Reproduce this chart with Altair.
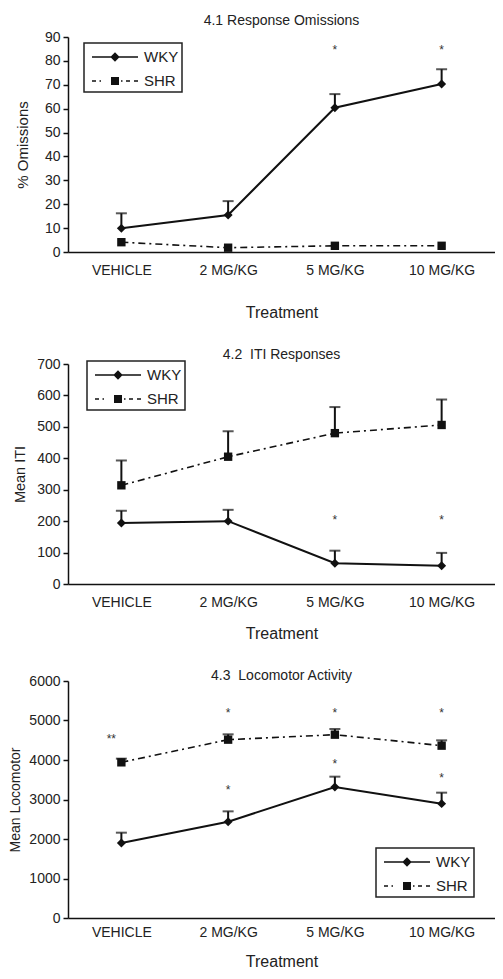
import altair as alt
import pandas as pd

treatments = ["VEHICLE", "2 MG/KG", "5 MG/KG", "10 MG/KG"]
strains = ["WKY", "SHR"]

# 4.1 Response Omissions
om_wky = [9.9, 15.5, 60.4, 70.3]
om_wky_up = [16.2, 21.3, 66.1, 76.5]
om_shr = [4.1, 1.8, 2.6, 2.6]
om_shr_up = [4.1, 1.8, 2.6, 2.6]
om_star_tr = ["5 MG/KG", "10 MG/KG"]
om_star_y = [86, 86]
om_star_txt = ["*", "*"]

# 4.2 ITI Responses
iti_wky = [194, 200, 66, 58]
iti_wky_up = [233, 236, 106, 99]
iti_shr = [314, 405, 480, 506]
iti_shr_up = [393, 486, 563, 587]
iti_star_tr = ["5 MG/KG", "10 MG/KG"]
iti_star_y = [212, 212]
iti_star_txt = ["*", "*"]

# 4.3 Locomotor Activity
loc_wky = [1899, 2439, 3316, 2895]
loc_wky_up = [2160, 2700, 3578, 3173]
loc_shr = [3941, 4515, 4641, 4363]
loc_shr_up = [4034, 4650, 4785, 4498]
loc_star_tr = ["2 MG/KG", "5 MG/KG", "10 MG/KG", "2 MG/KG", "5 MG/KG", "10 MG/KG"]
loc_star_y = [5274, 5274, 5274, 3316, 3966, 3629]
loc_star_txt = ["*", "*", "*", "*", "*", "*"]
loc_dstar_tr = ["VEHICLE"]
loc_dstar_y = [4608]
loc_dstar_txt = ["**"]

FONT = "Liberation Sans"
INK = "#111111"


def seg(x0, x1, h=0.08):
    return f"M{x0},{-h}H{x1}V{h}H{x0}Z"


# legend keys: line pieces drawn as thin filled bars, plus the marker
WKY_PATH = seg(-2.3, 2.3) + "M0,-0.47L0.47,0L0,0.47L-0.47,0Z"
SHR_PATH = (seg(-2.3, -1.9, 0.065) + seg(-1.55, -1.4, 0.065)
            + "M-0.4,-0.4H0.4V0.4H-0.4Z"
            + seg(0.6, 0.75, 0.065) + seg(1.1, 1.5, 0.065) + seg(1.9, 2.3, 0.065))


def frame(wky, wky_up, shr, shr_up):
    rows = []
    for i, t in enumerate(treatments):
        rows.append({"Treatment": t, "Strain": "WKY", "Mean": wky[i], "Upper": wky_up[i]})
        rows.append({"Treatment": t, "Strain": "SHR", "Mean": shr[i], "Upper": shr_up[i]})
    return pd.DataFrame(rows)


def panel(df, stars, dstars, title, ytitle, ymax, ystep, height, legend_xy, title_offset,
          ytp, ytfs, xlp, xtp):
    xenc = alt.X("Treatment:N", sort=treatments,
                 scale=alt.Scale(type="point", padding=0.5),
                 axis=alt.Axis(title="Treatment", labelAngle=0, ticks=False,
                               labelPadding=xlp, titlePadding=xtp,
                               titleFontSize=16))
    yscale = alt.Scale(domain=[0, ymax], nice=False, zero=True)
    yaxis = alt.Axis(title=ytitle, values=list(range(0, ymax + 1, ystep)),
                     format="d", labelOverlap=False, tickCount=len(range(0, ymax + 1, ystep)),
                     tickSize=5, labelPadding=3, titlePadding=ytp, titleFontSize=ytfs)

    def Y(field):
        return alt.Y(field, scale=yscale, axis=yaxis)

    base = alt.Chart(df)
    line_w = base.transform_filter("datum.Strain == 'WKY'").mark_line(color=INK, strokeWidth=2).encode(
        x=xenc, y=Y("Mean:Q"))
    line_s = base.transform_filter("datum.Strain == 'SHR'").mark_line(
        color=INK, strokeWidth=1.6, strokeDash=[7, 4, 2, 4]).encode(x=xenc, y=Y("Mean:Q"))
    err = base.transform_filter("datum.Upper > datum.Mean").mark_rule(color=INK, strokeWidth=2).encode(
        x=xenc, y=Y("Mean:Q"), y2="Upper:Q")
    caps = base.transform_filter("datum.Upper > datum.Mean").mark_tick(
        color=INK, size=11, thickness=2, orient="horizontal").encode(x=xenc, y=Y("Upper:Q"))
    dia = base.transform_filter("datum.Strain == 'WKY'").mark_point(
        shape="diamond", filled=True, color=INK, size=80, opacity=1).encode(x=xenc, y=Y("Mean:Q"))
    sq = base.transform_filter("datum.Strain == 'SHR'").mark_point(
        shape="square", filled=True, color=INK, size=70, opacity=1).encode(x=xenc, y=Y("Mean:Q"))
    st = alt.Chart(stars).mark_text(fontSize=12, baseline="alphabetic", dy=7, color="#333", font=FONT).encode(
        x=xenc, y=Y("y:Q"), text="label:N")
    layers = [line_w, line_s, err, caps, dia, sq, st]
    if dstars is not None:
        dst = alt.Chart(dstars).mark_text(fontSize=12, baseline="alphabetic", dy=7, dx=-10, color="#333", font=FONT).encode(
            x=xenc, y=Y("y:Q"), text="label:N")
        layers.append(dst)
    legend = alt.Legend(title=None, orient="none", legendX=legend_xy[0], legendY=legend_xy[1],
                        symbolSize=400, symbolOffset=17, labelOffset=18,
                        symbolFillColor=INK, symbolStrokeColor=INK, symbolStrokeWidth=1.5,
                        labelFontSize=15, labelFont=FONT, labelColor="#222",
                        strokeColor="#222", padding=3, rowPadding=5, fillColor="white")
    leg = base.mark_point(
        filled=True, fill=INK, stroke=INK, strokeWidth=1.5, opacity=1, size=400, clip=True).encode(
        x=alt.value(-500), y=alt.value(-500),
        shape=alt.Shape("Strain:N", scale=alt.Scale(domain=strains, range=[WKY_PATH, SHR_PATH]),
                        legend=legend))
    layers.append(leg)
    return alt.layer(*layers).properties(
        width=427, height=height,
        title=alt.TitleParams(title, fontSize=14, font=FONT, fontWeight="normal", color="#222",
                              anchor="middle", offset=title_offset))


def stars_df(tr, y, txt):
    return pd.DataFrame({"Treatment": tr, "y": y, "label": txt})


p1 = panel(frame(om_wky, om_wky_up, om_shr, om_shr_up), stars_df(om_star_tr, om_star_y, om_star_txt), None,
           "4.1 Response Omissions", "% Omissions", 90, 10, 215, (16, 6), 2, 13.5, 15, 11.5, 27)
p2 = panel(frame(iti_wky, iti_wky_up, iti_shr, iti_shr_up), stars_df(iti_star_tr, iti_star_y, iti_star_txt), None,
           "4.2\u00a0 ITI Responses", "Mean ITI", 700, 100, 220, (19, -3), -5, 9, 14.5, 11.7, 16)
p3 = panel(frame(loc_wky, loc_wky_up, loc_shr, loc_shr_up), stars_df(loc_star_tr, loc_star_y, loc_star_txt),
           stars_df(loc_dstar_tr, loc_dstar_y, loc_dstar_txt),
           "4.3\u00a0 Locomotor Activity", "Mean Locomotor", 6000, 1000, 237, (308, 167), -9.3, 6, 14, 7.3, 13.7)

chart = alt.vconcat(p1, p2, p3, spacing=27).resolve_scale(
    shape="independent"
).resolve_legend(shape="independent").properties(
    padding={"left": 0, "top": 6, "right": 0, "bottom": 0}
).configure_view(stroke=None).configure_axis(
    labelFont=FONT, titleFont=FONT, labelFontSize=14, titleFontSize=15,
    titleFontWeight="normal", labelColor="#222", titleColor="#222",
    domainColor=INK, domainWidth=1.5, tickColor=INK, tickWidth=1.5, grid=False,
).configure_legend(strokeWidth=1.5)

chart.save("out.html", embed_options={"renderer": "svg", "actions": False})
